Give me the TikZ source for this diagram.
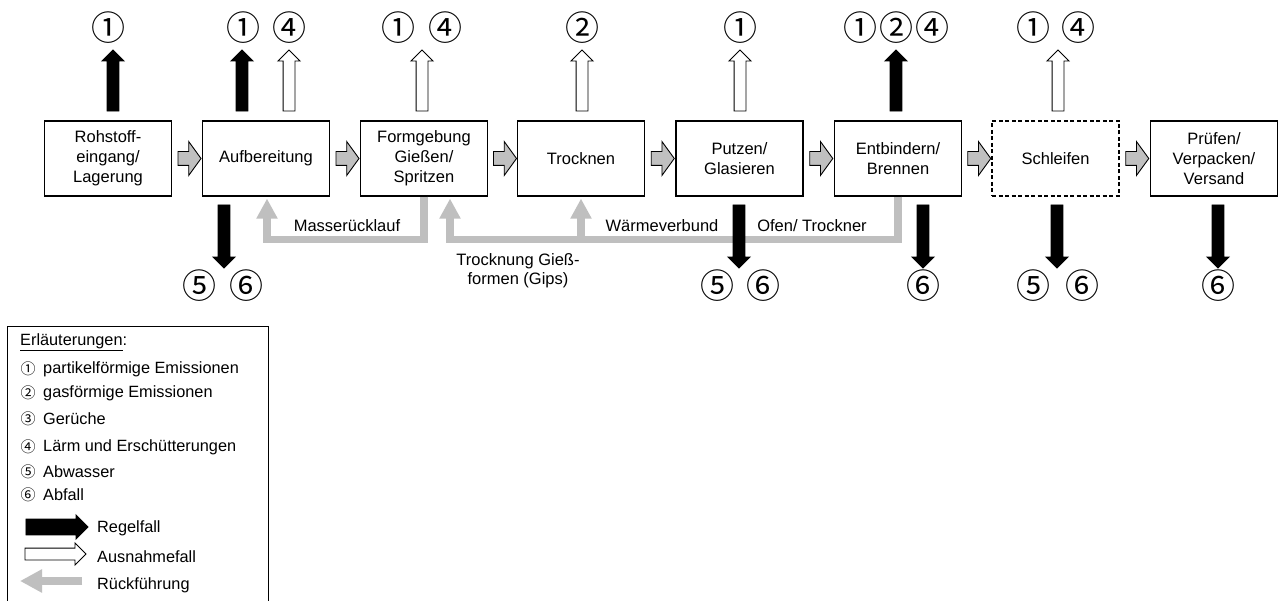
\documentclass[tikz,border=0pt]{standalone}
\usepackage{fontspec}
\setmainfont{Liberation Sans}
\newfontfamily\circfont{Noto Sans CJK JP}
\usetikzlibrary{shapes.arrows,arrows.meta,calc}

\definecolor{flowgray}{HTML}{C0C0C0}
\definecolor{backgray}{HTML}{BFBFBF}

\tikzset{
  stage/.style={draw, line width=1.2pt, minimum width=127pt, minimum height=75pt,
    align=center, font=\fontsize{16.5}{20}\selectfont, inner sep=0pt},
  optstage/.style={stage, dash pattern=on 4pt off 2.5pt},
  flowarrow/.style={single arrow, draw, fill=flowgray, line width=0.9pt,
    minimum height=23pt, inner sep=6.5pt, single arrow head extend=10pt,
    single arrow tip angle=108},
  outbase/.style={single arrow, draw, line width=0.9pt, inner sep=5.5pt,
    single arrow head extend=5pt, single arrow tip angle=90},
  regular/.style={outbase, fill=black},
  exception/.style={outbase, fill=white},
  goesup/.style={shape border rotate=90, minimum height=61pt},
  goesdown/.style={shape border rotate=270, minimum height=63pt},
  emis/.style={font=\circfont\fontsize{34}{34}\selectfont, inner sep=0pt},
  back/.style={draw=backgray, line width=7.5pt, -{Triangle[width=20pt,length=20pt]}},
  backlabel/.style={font=\fontsize{16.5}{19}\selectfont, align=center, inner sep=0pt},
  legtext/.style={font=\fontsize{16.3}{18}\selectfont, anchor=west, inner sep=0pt},
  legnum/.style={font=\circfont\fontsize{15}{15}\selectfont, inner sep=0pt}
}

\begin{document}
\begin{tikzpicture}[x=1pt,y=-1pt]
  \useasboundingbox[fill=white] (0,0) rectangle (1279,601);

  % process stages
  \node[stage]    (b1) at (108,158.5)    {Rohstoff-\\eingang/\\Lagerung};
  \node[stage]    (b2) at (266,158.5)    {Aufbereitung};
  \node[stage]    (b3) at (424,158.5)    {Formgebung\\Gießen/\\Spritzen};
  \node[stage]    (b4) at (581,158.5)    {Trocknen};
  \node[stage]    (b5) at (739.5,158.5)  {Putzen/\\Glasieren};
  \node[stage]    (b6) at (898,158.5)    {Entbindern/\\Brennen};
  \node[optstage] (b7) at (1055.5,158.5) {Schleifen};
  \node[stage]    (b8) at (1214,158.5)   {Prüfen/\\Verpacken/\\Versand};

  % material flow between stages
  \foreach \a/\b in {b1/b2,b2/b3,b3/b4,b4/b5,b5/b6,b6/b7,b7/b8}
    \node[flowarrow] (f\a) at ($(\a.east)!0.5!(\b.west)$) {};

  % returns and heat recovery
  \coordinate (mr) at ($(b3.south)+(0,43)$);
  \coordinate (wv) at ($(b6.south)+(0,43)$);
  \coordinate (wt) at ($(b4.south)+(0,43)$);
  \draw[back] (b3.south) -- (mr) -| ([xshift=1pt,yshift=-2pt]b2.south);
  \draw[back] (b6.south) -- (wv) -| ([xshift=26pt,yshift=-2pt]b3.south);
  \draw[back] (wt) -- ([yshift=-2pt]b4.south);

  \node[backlabel] (lmr) at (347,226) {Masserücklauf};
  \node[backlabel] (lwv) at (662,226) {Wärmeverbund};
  \node[backlabel] (lot) at (812,226) {Ofen/ Trockner};
  \node[backlabel] (ltg) at (518,271) {Trocknung Gieß-\\formen (Gips)};

  % emissions to air and noise
  \node[regular,goesup]   (u1)  at (113,83.5)  {};
  \node[regular,goesup]   (u2a) at (242,83.5)  {};
  \node[exception,goesup] (u2b) at (289,83.5)  {};
  \node[exception,goesup] (u3)  at (422,83.5)  {};
  \node[exception,goesup] (u4)  at (582,83.5)  {};
  \node[exception,goesup] (u5)  at (740,83.5)  {};
  \node[regular,goesup]   (u6)  at (896,83.5)  {};
  \node[exception,goesup] (u7)  at (1058,83.5) {};

  \node[emis] (t1)  at (108,28)  {①};
  \node[emis] (t2a) at (243,28)  {①};
  \node[emis] (t2b) at (289,28)  {④};
  \node[emis] (t3a) at (398,28)  {①};
  \node[emis] (t3b) at (445,28)  {④};
  \node[emis] (t4)  at (582,28)  {②};
  \node[emis] (t5)  at (740,28)  {①};
  \node[emis] (t6a) at (860,28)  {①};
  \node[emis] (t6b) at (896,28)  {②};
  \node[emis] (t6c) at (932,28)  {④};
  \node[emis] (t7a) at (1033,28) {①};
  \node[emis] (t7b) at (1078,28) {④};

  % waste water and waste
  \node[regular,goesdown] (d2) at (224,233.5)  {};
  \node[regular,goesdown] (d5) at (739,233.5)  {};
  \node[regular,goesdown] (d6) at (923,233.5)  {};
  \node[regular,goesdown] (d7) at (1057,233.5) {};
  \node[regular,goesdown] (d8) at (1218,233.5) {};

  \node[emis] (s2a) at (199,286)  {⑤};
  \node[emis] (s2b) at (246,286)  {⑥};
  \node[emis] (s5a) at (717,286)  {⑤};
  \node[emis] (s5b) at (763,286)  {⑥};
  \node[emis] (s6)  at (923,286)  {⑥};
  \node[emis] (s7a) at (1033,286) {⑤};
  \node[emis] (s7b) at (1082,286) {⑥};
  \node[emis] (s8)  at (1218,286) {⑥};

  % legend
  \draw[line width=1pt] (7,612) -- (7,327) -- (268,327) -- (268,612);
  \node[legtext] (lh) at (20,342) {\underline{Erläuterungen}:};
  \foreach \y/\n/\t [count=\i] in {369/①/partikelförmige Emissionen,
      393/②/gasförmige Emissionen, 419/③/Gerüche,
      447/④/Lärm und Erschütterungen, 472/⑤/Abwasser, 495/⑥/Abfall} {
    \node[legnum] (ln\i) at (28,\y) {\n};
    \node[legtext] (lt\i) at (43,\y) {\t};
  }
  \node[single arrow, draw, fill=black, line width=0.9pt, minimum height=62pt,
    inner sep=7.5pt, single arrow head extend=4pt, single arrow tip angle=90]
    (kr) at (53,527) {};
  \node[legtext] (kr-t) at (97,528) {Regelfall};
  \node[single arrow, draw, fill=white, line width=0.9pt, minimum height=61pt,
    inner sep=5.5pt, single arrow head extend=5pt, single arrow tip angle=90]
    (ka) at (52.5,554) {};
  \node[legtext] (ka-t) at (97,557) {Ausnahmefall};
  \coordinate (kb-s) at (82,581);
  \coordinate (kb-e) at (20,581);
  \draw[draw=backgray, line width=8pt, -{Triangle[width=22pt,length=22pt]}] (kb-s) -- (kb-e);
  \node[legtext] (kb-t) at (97,585) {Rückführung};
\end{tikzpicture}
\end{document}
